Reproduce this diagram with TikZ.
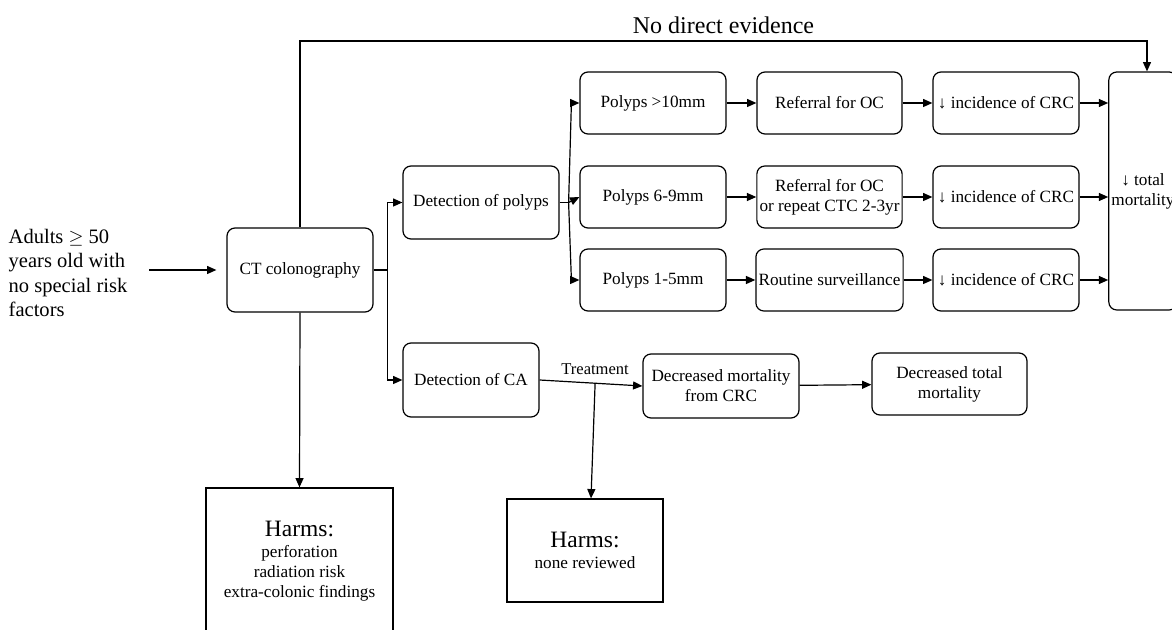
\documentclass[tikz,border=0pt]{standalone}
\usepackage{fontspec}
\setmainfont{Liberation Serif}
\usetikzlibrary{arrows.meta}
\tikzset{
  box/.style={draw, line width=0.9pt, rounded corners=6pt, align=center,
    inner sep=2pt, font=\fontsize{12.9}{15}\selectfont},
  harmbox/.style={draw, line width=0.9pt, align=center,
    font=\fontsize{12.9}{15}\selectfont},
  arr/.style={line width=0.9pt, -{Triangle[length=7pt,width=6pt]}},
  link/.style={line width=0.9pt}
}
\begin{document}
\begin{tikzpicture}[x=0.75pt,y=-0.75pt]
    \useasboundingbox (0,0) rectangle (1172,630);
    % Nodi
    \node (inp) [anchor=west, align=left, font=\fontsize{15.4}{18.4}\selectfont] at (4,273)
        {Adults $\geq$ 50\\years old with\\no special risk\\factors};
    \node (ct) [box, minimum width=109.5pt, minimum height=63pt] at (300,270) {CT colonography};
    \node (dp) [box, minimum width=117pt, minimum height=54.75pt] at (481,202.5) {Detection of polyps};
    \node (dca) [box, minimum width=102pt, minimum height=55.5pt] at (471,380) {Detection of CA};
    \node (p1) [box, minimum width=109.5pt, minimum height=46.5pt] at (653,103) {Polyps >10mm};
    \node (p2) [box, minimum width=109.5pt, minimum height=46.5pt] at (653,197) {Polyps 6-9mm};
    \node (p3) [box, minimum width=109.5pt, minimum height=46.5pt] at (653,280) {Polyps 1-5mm};
    \node (r1) [box, minimum width=108.75pt, minimum height=46.5pt] at (829.5,103) {Referral for OC};
    \node (r2) [box, minimum width=108.75pt, minimum height=46.5pt] at (829.5,197) {Referral for OC\\or repeat CTC 2-3yr};
    \node (r3) [box, minimum width=108.75pt, minimum height=46.5pt] at (829.5,280) {Routine surveillance};
    \node (i1) [box, minimum width=109.5pt, minimum height=46.5pt] at (1006,103) {↓ incidence of CRC};
    \node (i2) [box, minimum width=109.5pt, minimum height=46.5pt] at (1006,197) {↓ incidence of CRC};
    \node (i3) [box, minimum width=109.5pt, minimum height=46.5pt] at (1006,280) {↓ incidence of CRC};
    \node (tm) [box, minimum width=48pt, minimum height=178.5pt] at (1143,191) {↓ total\\mortality};
    \node (dm) [box, minimum width=117pt, minimum height=48pt] at (721,386) {Decreased mortality\\from CRC};
    \node (dtm) [box, minimum width=116.25pt, minimum height=46.5pt] at (949.5,384) {Decreased total\\mortality};
    \node (h1) [harmbox, minimum width=140.25pt, minimum height=109.5pt] at (299.5,561)
        {{\fontsize{17.6}{21}\selectfont Harms:}\\[1pt]perforation\\radiation risk\\extra-colonic findings};
    \node (h2) [harmbox, minimum width=117pt, minimum height=77.25pt] at (585,550.5)
        {{\fontsize{17.6}{21}\selectfont Harms:}\\[1pt]none reviewed};
    % Frecce
    \draw [arr] (inp.east |- ct.west) ++(17,0) -- ([xshift=-7.5pt]ct.west);
    \draw [link] (ct.east) -- ++(14,0) coordinate (cf);
    \draw [arr] (cf) |- (dp.west);
    \draw [arr] (cf) |- (dca.west);
    \coordinate (nde) at (1147,41);
    \draw [arr] (ct.north) |- (nde) node [pos=0.75, above=2pt, font=\fontsize{18}{21}\selectfont] {No direct evidence}
        -- (nde |- tm.north);
    \draw [arr] (ct.south) -- (h1.north);
    \draw [link] (dp.east) -- ++(9,0) coordinate (pf);
    \draw [arr] (pf) -- ([xshift=-6pt]p1.west) -- (p1.west);
    \draw [arr] (pf) -- (p2.west);
    \draw [arr] (pf) -- ([xshift=-6pt]p3.west) -- (p3.west);
    \foreach \i in {1,2,3} {
        \draw [arr] (p\i) -- (r\i);
        \draw [arr] (r\i) -- (i\i);
        \draw [arr] (i\i.east) -- (i\i.east -| tm.west);
    }
    \draw [arr] (dca.east) -- coordinate [pos=0.54] (tx)
        node [pos=0.54, above=3pt, font=\fontsize{12.4}{14}\selectfont] {Treatment} (dm.west);
    \draw [arr] (tx) -- ([xshift=4.5pt]h2.north);
    \draw [arr] (dm) -- (dtm);
\end{tikzpicture}
\end{document}
